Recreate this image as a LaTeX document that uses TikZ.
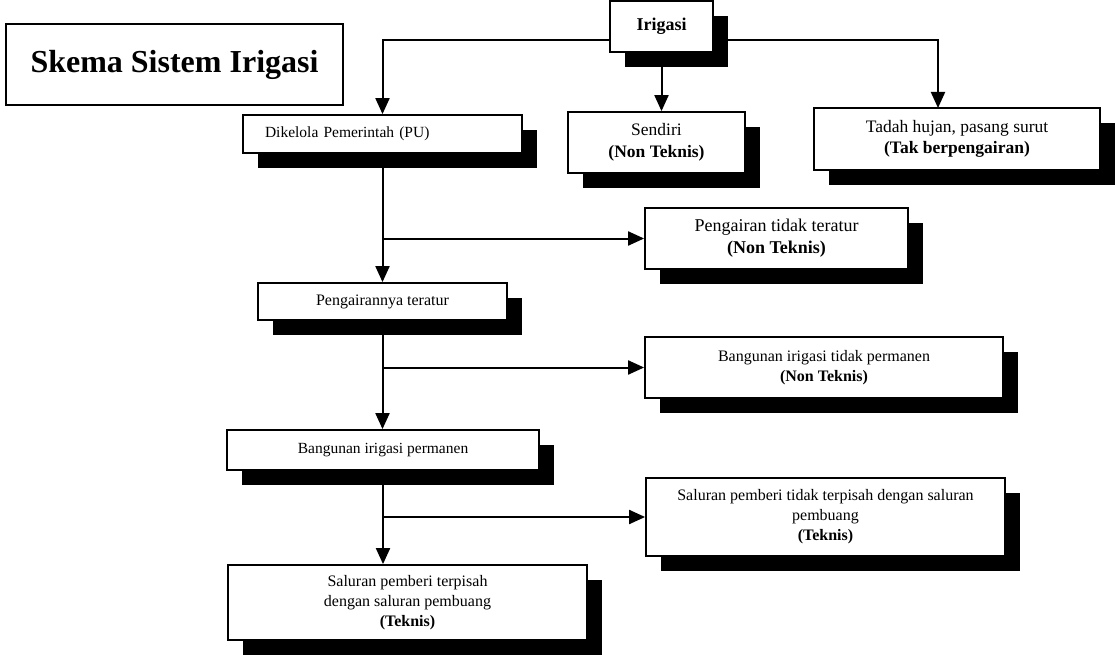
\documentclass[tikz,border=0pt]{standalone}
\usepackage{fontspec}
\setmainfont{Liberation Serif}
\usetikzlibrary{arrows.meta,shadows}
\tikzset{
  box/.style={draw=black, line width=1.8pt, fill=white, inner sep=2pt, align=center,
    drop shadow={shadow xshift=15pt, shadow yshift=-15pt, fill=black, opacity=1}},
  conn/.style={line width=2pt, draw=black},
  arr/.style={conn, -{Triangle[length=16pt,width=14pt]}}
}
\begin{document}
\begin{tikzpicture}[x=1pt,y=-1pt]
\useasboundingbox (0,0) rectangle (1115,655);
\fill[white] (0,0) rectangle (1115,655);

\node[draw=black, line width=1.8pt, fill=white, minimum width=337pt, minimum height=81pt,
  font=\fontsize{32}{38}\selectfont\bfseries] (title) at (174.5,64.5) {Skema Sistem Irigasi};

\node[box, minimum width=103pt, minimum height=51pt, font=\fontsize{18}{22}\selectfont\bfseries] (irigasi) at (661.5,26.5) {Irigasi};

\node[box, minimum height=38pt, text width=235pt, inner xsep=22pt, align=left,
  font=\fontsize{15.5}{19}\selectfont] (pu) at (382.5,134) {Dikelola Pemerintah (PU)};

\node[box, minimum width=177pt, minimum height=61pt, font=\fontsize{17.5}{22}\selectfont] (sendiri) at (656.5,142.5)
  {Sendiri\\\textbf{(Non Teknis)}};

\node[box, minimum width=286pt, minimum height=62pt, font=\fontsize{17.5}{21}\selectfont] (tadah) at (957,139)
  {Tadah hujan, pasang surut\\\textbf{(Tak berpengairan)}};

\node[box, minimum width=263pt, minimum height=61pt, font=\fontsize{18}{22}\selectfont] (ptt) at (776.5,238.5)
  {Pengairan tidak teratur\\\textbf{(Non Teknis)}};

\node[box, minimum width=249pt, minimum height=37pt, font=\fontsize{16}{19}\selectfont] (pt) at (382.5,301.5)
  {Pengairannya teratur};

\node[box, minimum width=358pt, minimum height=61pt, font=\fontsize{16}{20}\selectfont] (btp) at (824,367.5)
  {Bangunan irigasi tidak permanen\\\textbf{(Non Teknis)}};

\node[box, minimum width=312pt, minimum height=40pt, font=\fontsize{15.5}{19}\selectfont] (bp) at (383,450)
  {Bangunan irigasi permanen};

\node[box, minimum width=359pt, minimum height=78pt, font=\fontsize{16}{20}\selectfont] (stt) at (825.5,517)
  {Saluran pemberi tidak terpisah dengan saluran\\pembuang\\\textbf{(Teknis)}};

\node[box, minimum width=359pt, minimum height=75pt, font=\fontsize{16}{20}\selectfont] (st) at (407.5,602.5)
  {Saluran pemberi terpisah\\dengan saluran pembuang\\\textbf{(Teknis)}};

\coordinate (tl) at (383,40);
\coordinate (tadahin) at (938,108);

\draw[arr] (irigasi.west |- tl) -| (pu.north);
\draw[arr] (irigasi.south) -- (irigasi.south |- sendiri.north);
\draw[arr] (irigasi.east |- tl) -| (tadahin);

\draw[arr] (pu.south) -- (pu.south |- pt.north);
\draw[arr] (pu.south |- ptt.west) -- (ptt.west);

\draw[arr] (pt.south) -- (pt.south |- bp.north);
\draw[arr] (pt.south |- btp.west) -- (btp.west);

\draw[arr] (bp.south) -- (bp.south |- st.north);
\draw[arr] (bp.south |- stt.west) -- (stt.west);
\end{tikzpicture}
\end{document}
